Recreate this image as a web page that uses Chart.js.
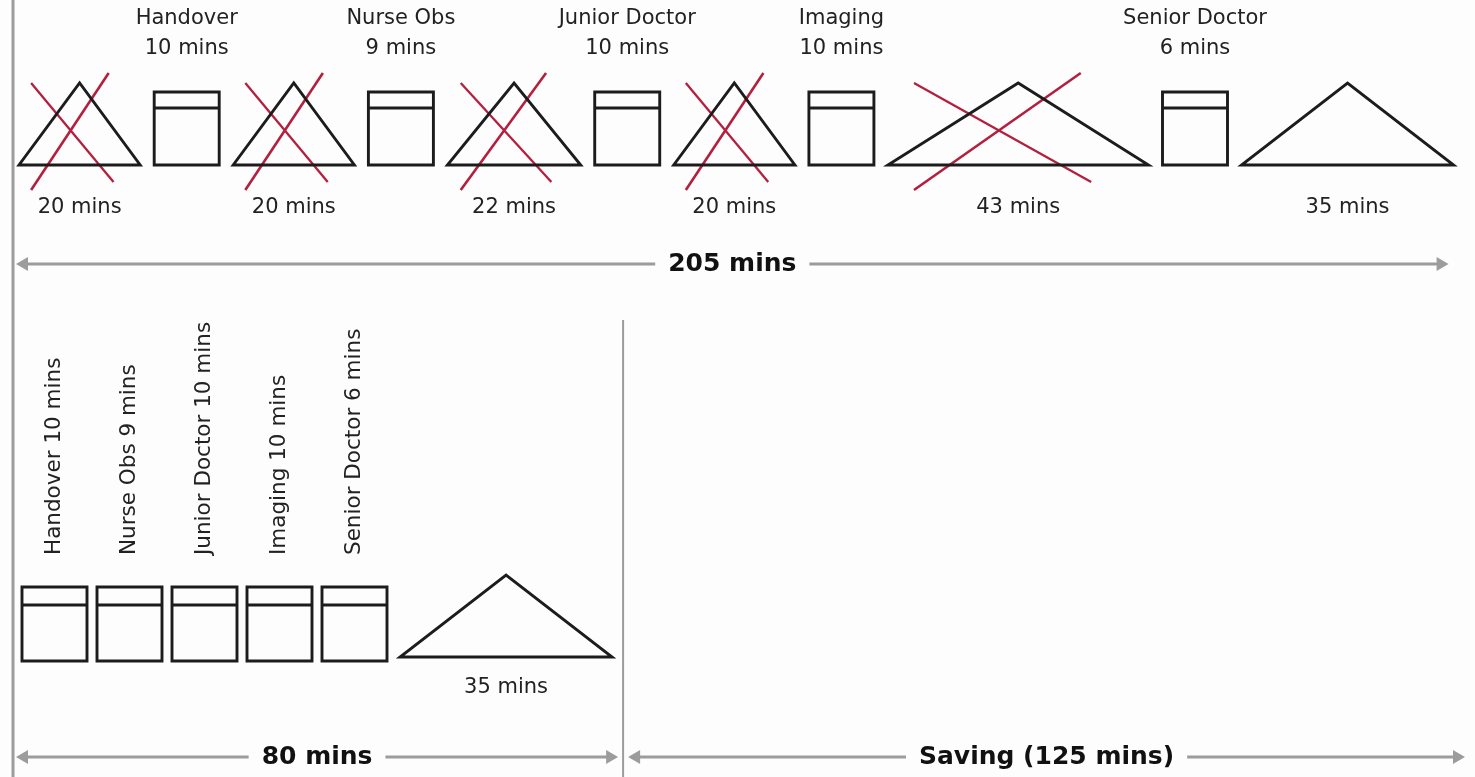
<!DOCTYPE html>
<html>
<head>
<meta charset="utf-8">
<script src="https://cdn.jsdelivr.net/npm/chart.js@4.4.1/dist/chart.umd.min.js"></script>
<style>
  html, body { margin: 0; padding: 0; background: #fdfdfd; overflow: hidden; }
  #wrap { width: 1475px; height: 777px; position: relative; }
</style>
</head>
<body>
<div id="wrap"><canvas id="flowChart"></canvas></div>
<script>
// ── DATA ────────────────────────────────────────────────────────────────
const steps = ['Handover', 'Nurse Obs', 'Junior Doctor', 'Imaging', 'Senior Doctor'];
const stepMins = [10, 9, 10, 10, 6];
const waitMins = [20, 20, 22, 20, 43, 35];            // wait before each step, last one after
const waitCut = [true, true, true, true, true, false]; // waits removed in the new flow
const leanWaitMins = [35];

function sum(a) { return a.reduce((s, v) => s + v, 0); }

const totalBefore = sum(stepMins) + sum(waitMins);     // 205
const totalAfter = sum(stepMins) + sum(leanWaitMins);  // 80
const saving = totalBefore - totalAfter;               // 125

// ── LAYOUT / STYLE ──────────────────────────────────────────────────────
const INK = '#1c1c1c', CUT = '#b3203f', RULE = '#9c9c9c', BG = '#fdfdfd';
const FONT = '"DejaVu Sans", sans-serif';
const LABEL_FONT = '21px ' + FONT;
const SIDE_FONT = '21.5px ' + FONT;
const BIG_FONT = 'bold 25px ' + FONT;
const STROKE = 2.9;
const BOX_W = 65, GAP = 14, PX_PER_MIN = 6.06;
const TOP = { left: 19, apex: 83, base: 165, boxTop: 92, boxBand: 108, titleY: 19, minsY: 49, waitY: 208, arrowY: 264 };
const LOW = { left: 22, apex: 575, base: 657, boxTop: 587, boxBand: 605, boxBottom: 661, gap: 10, textY: 555, waitY: 688, arrowY: 757 };

const datasets = [];
const labels = [];

function addLine(points, color, width, extra) {
    datasets.push(Object.assign({
        data: points,
        showLine: true,
        borderColor: color,
        borderWidth: width,
        borderJoinStyle: 'miter',
        pointRadius: 0,
        fill: false,
        tension: 0
    }, extra || {}));
}

function triangle(left, w, apexY, baseY) {
    const mid = left + w / 2;
    addLine([
        { x: mid, y: baseY }, { x: left + w, y: baseY }, { x: mid, y: apexY },
        { x: left, y: baseY }, { x: mid, y: baseY }
    ], INK, STROKE);
}

function box(left, top, band, bottom) {
    const r = left + BOX_W;
    addLine([
        { x: left, y: top }, { x: r, y: top }, { x: r, y: bottom },
        { x: left, y: bottom }, { x: left, y: top }, { x: r, y: top }
    ], INK, STROKE);
    addLine([{ x: left, y: band }, { x: r, y: band }], INK, STROKE);
}

function cross(left, w, apexY, baseY) {
    addLine([{ x: left + 0.1 * w, y: apexY }, { x: left + 0.78 * w, y: baseY + 17 }], CUT, 2.3);
    addLine([{ x: left + 0.74 * w, y: apexY - 10 }, { x: left + 0.1 * w, y: baseY + 25 }], CUT, 2.6);
}

function arrow(x0, x1, y, text) {
    const r = 8;
    addLine([{ x: x0 + r, y: y }, { x: x1 - r, y: y }], RULE, 3, {
        pointRadius: r,
        pointStyle: 'triangle',
        pointRotation: [-90, 90],
        pointBackgroundColor: RULE,
        pointBorderColor: RULE,
        pointBorderWidth: 0
    });
    labels.push({ text: text, x: (x0 + x1) / 2, y: y, font: BIG_FONT, knockout: true });
}

// ── CURRENT FLOW (TOP ROW) ──────────────────────────────────────────────
let x = TOP.left;
waitMins.forEach((m, i) => {
    const w = m * PX_PER_MIN;
    triangle(x, w, TOP.apex, TOP.base);
    if (waitCut[i]) cross(x, w, TOP.apex, TOP.base);
    labels.push({ text: m + ' mins', x: x + w / 2, y: TOP.waitY });
    x += w + GAP;
    if (i < steps.length) {
        box(x, TOP.boxTop, TOP.boxBand, TOP.base);
        labels.push({ text: steps[i], x: x + BOX_W / 2, y: TOP.titleY });
        labels.push({ text: stepMins[i] + ' mins', x: x + BOX_W / 2, y: TOP.minsY });
        x += BOX_W + GAP;
    }
});
const topRight = x - GAP;

// ── NEW FLOW (BOTTOM ROW) ───────────────────────────────────────────────
x = LOW.left;
steps.forEach((s, i) => {
    box(x, LOW.boxTop, LOW.boxBand, LOW.boxBottom);
    labels.push({ text: s + ' ' + stepMins[i] + ' mins', x: x + BOX_W / 2, y: LOW.textY, rotate: true });
    x += BOX_W + LOW.gap;
});
x += 3;
leanWaitMins.forEach(m => {
    const w = m * PX_PER_MIN;
    triangle(x, w, LOW.apex, LOW.base);
    labels.push({ text: m + ' mins', x: x + w / 2, y: LOW.waitY });
    x += w;
});
const divider = x + 11;

// ── RULES & ARROWS ──────────────────────────────────────────────────────
addLine([{ x: 13, y: 0 }, { x: 13, y: 777 }], RULE, 3);
addLine([{ x: divider, y: 320 }, { x: divider, y: 777 }], RULE, 2);
arrow(16, topRight - 5, TOP.arrowY, totalBefore + ' mins');
arrow(16, divider - 5, LOW.arrowY, totalAfter + ' mins');
arrow(divider + 5, 1465, LOW.arrowY, 'Saving (' + saving + ' mins)');

// ── TEXT PLUGIN ─────────────────────────────────────────────────────────
const textPlugin = {
    id: 'flowText',
    afterDatasetsDraw(chart) {
        const { ctx } = chart;
        const sx = chart.scales.x, sy = chart.scales.y;
        ctx.save();
        labels.forEach(l => {
            const px = sx.getPixelForValue(l.x);
            const py = sy.getPixelForValue(l.y);
            ctx.fillStyle = '#222';
            if (l.rotate) {
                ctx.font = SIDE_FONT;
                ctx.save();
                ctx.translate(px, py);
                ctx.rotate(-Math.PI / 2);
                ctx.textAlign = 'left';
                ctx.textBaseline = 'middle';
                ctx.fillText(l.text, 0, 0);
                ctx.restore();
                return;
            }
            ctx.font = l.font || LABEL_FONT;
            ctx.textAlign = 'center';
            ctx.textBaseline = 'middle';
            if (l.knockout) {
                const w = ctx.measureText(l.text).width;
                ctx.fillStyle = BG;
                ctx.fillRect(px - w / 2 - 13, py - 6, w + 26, 12);
                ctx.fillStyle = '#111';
            }
            ctx.fillText(l.text, px, py);
        });
        ctx.restore();
    }
};

new Chart(document.getElementById('flowChart').getContext('2d'), {
    type: 'scatter',
    data: { datasets: datasets },
    options: {
        responsive: true,
        maintainAspectRatio: false,
        animation: false,
        events: [],
        layout: { autoPadding: false, padding: 0 },
        plugins: { legend: { display: false }, tooltip: { enabled: false } },
        scales: {
            x: { type: 'linear', min: 0, max: 1475, display: false },
            y: { type: 'linear', min: 0, max: 777, reverse: true, display: false }
        }
    },
    plugins: [textPlugin]
});
</script>
</body>
</html>
